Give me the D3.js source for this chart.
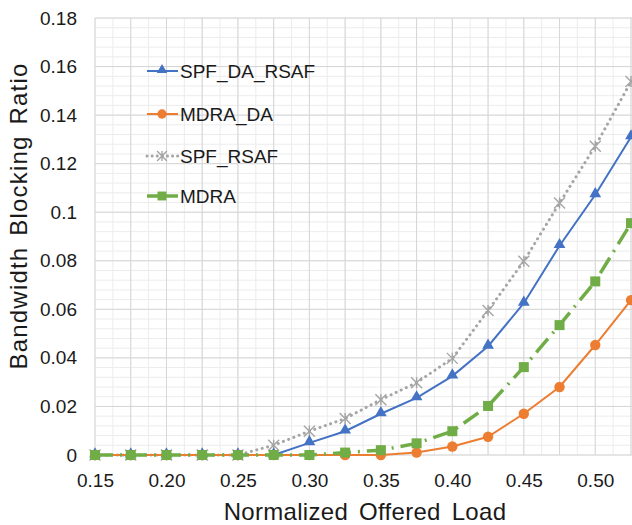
<!DOCTYPE html>
<html lang="en">
<head>
  <meta charset="UTF-8">
  <title>Bandwidth Blocking Ratio</title>
  <script src="https://cdn.jsdelivr.net/npm/d3@7"></script>
  <style>
    body { margin: 0; background: #fff; }
    text { font-family: "Liberation Sans", Arial, sans-serif; }
  </style>
</head>
<body>
<svg id="chart" width="632" height="525"></svg>
<script>
  // data
  var loads = [0.15, 0.175, 0.20, 0.225, 0.25, 0.275, 0.30, 0.325, 0.35, 0.375, 0.40, 0.425, 0.45, 0.475, 0.50, 0.525];
  var spfDaRsaf = [0, 0, 0, 0, 0, 0, 0.005, 0.0098, 0.017, 0.0235, 0.0325, 0.0448, 0.0625, 0.0862, 0.1072, 0.131];
  var mdraDa    = [0, 0, 0, 0, 0, 0, 0, 0, 0, 0.001, 0.0035, 0.0075, 0.017, 0.028, 0.0453, 0.0638];
  var spfRsaf   = [0, 0, 0, 0, 0, 0.004, 0.0098, 0.015, 0.0228, 0.0298, 0.0398, 0.0595, 0.0798, 0.1038, 0.1272, 0.1538];
  var mdra      = [0, 0, 0, 0, 0, 0, 0, 0.001, 0.002, 0.0048, 0.0098, 0.0202, 0.0362, 0.0535, 0.0715, 0.0955];
  var xTicks = [0.15, 0.20, 0.25, 0.30, 0.35, 0.40, 0.45, 0.50];
  var yTicks = [0, 0.02, 0.04, 0.06, 0.08, 0.1, 0.12, 0.14, 0.16, 0.18];

  var series = [
    {name: "SPF_DA_RSAF", values: spfDaRsaf, color: "#4472C4", marker: "triangle", dash: null, width: 2},
    {name: "MDRA_DA", values: mdraDa, color: "#ED7D31", marker: "circle", dash: null, width: 2},
    {name: "SPF_RSAF", values: spfRsaf, color: "#A5A5A5", marker: "star", dash: "0.1 5.5", width: 3},
    {name: "MDRA", values: mdra, color: "#70AD47", marker: "square", dash: "18 7 2 7", width: 3.5}
  ];

  var svg = d3.select("#chart");
  var plotLeft = 95, plotRight = 631, plotTop = 18, plotBottom = 455;

  var x = d3.scaleLinear().domain([0.15, 0.525]).range([plotLeft, plotRight]);
  var y = d3.scaleLinear().domain([0, 0.18]).range([plotBottom, plotTop]);

  // grid: minor then major
  var grid = svg.append("g");
  grid.selectAll(".vminor").data(d3.range(0, 31).map(function(i) { return 0.15 + i * 0.0125; }))
    .enter().append("line")
    .attr("x1", function(d) { return x(d); }).attr("x2", function(d) { return x(d); })
    .attr("y1", plotTop).attr("y2", plotBottom)
    .attr("stroke", "#ececec").attr("stroke-width", 1);
  grid.selectAll(".hminor").data(d3.range(0, 46).map(function(i) { return i * 0.004; }))
    .enter().append("line")
    .attr("x1", plotLeft).attr("x2", plotRight + 1)
    .attr("y1", function(d) { return y(d); }).attr("y2", function(d) { return y(d); })
    .attr("stroke", "#ececec").attr("stroke-width", 1);
  grid.selectAll(".vmajor").data(d3.range(0, 16).map(function(i) { return 0.15 + i * 0.025; }))
    .enter().append("line")
    .attr("x1", function(d) { return x(d); }).attr("x2", function(d) { return x(d); })
    .attr("y1", plotTop).attr("y2", plotBottom)
    .attr("stroke", "#d6d6d6").attr("stroke-width", 1);
  grid.selectAll(".hmajor").data(yTicks)
    .enter().append("line")
    .attr("x1", plotLeft).attr("x2", plotRight + 1)
    .attr("y1", function(d) { return y(d); }).attr("y2", function(d) { return y(d); })
    .attr("stroke", "#d6d6d6").attr("stroke-width", 1);

  // axes
  var xAxis = d3.axisBottom(x).tickValues(xTicks).tickFormat(d3.format(".2f")).tickSize(0).tickPadding(19);
  var yAxis = d3.axisLeft(y).tickValues(yTicks).tickFormat(function(d) { return d === 0 ? "0" : String(+d.toFixed(2)); })
    .tickSize(0).tickPadding(18);
  var gx = svg.append("g").attr("transform", "translate(0," + plotBottom + ")").call(xAxis);
  var gy = svg.append("g").attr("transform", "translate(" + plotLeft + ",0)").call(yAxis);
  [gx, gy].forEach(function(g) {
    g.attr("font-size", 19).attr("font-family", "'Liberation Sans', Arial, sans-serif");
    g.select(".domain").remove();
    g.selectAll("text").attr("fill", "#1a1a1a");
  });

  svg.append("text").attr("x", 365).attr("y", 520).attr("text-anchor", "middle")
    .attr("font-size", 24).attr("letter-spacing", 0.3).attr("word-spacing", 4)
    .attr("fill", "#1a1a1a").text("Normalized Offered Load");
  svg.append("text").attr("transform", "translate(27,216) rotate(-90)").attr("text-anchor", "middle")
    .attr("font-size", 24).attr("letter-spacing", 1.2).attr("word-spacing", 3)
    .attr("fill", "#1a1a1a").text("Bandwidth Blocking Ratio");

  function drawMarker(g, type, color, cx, cy, s) {
    if (type === "triangle") {
      g.append("path").attr("d", d3.symbol(d3.symbolTriangle, 60 * s)()).attr("transform", "translate(" + cx + "," + (cy - 1) + ")").attr("fill", color);
    } else if (type === "circle") {
      g.append("circle").attr("cx", cx).attr("cy", cy).attr("r", 5.2 * Math.sqrt(s)).attr("fill", color);
    } else if (type === "square") {
      var h = 5 * Math.sqrt(s);
      g.append("rect").attr("x", cx - h).attr("y", cy - h).attr("width", 2 * h).attr("height", 2 * h).attr("fill", color);
    } else if (type === "star") {
      var r = 5.5 * Math.sqrt(s);
      g.append("path").attr("d",
        "M" + (cx - r) + "," + (cy - r) + "L" + (cx + r) + "," + (cy + r) +
        "M" + (cx - r) + "," + (cy + r) + "L" + (cx + r) + "," + (cy - r) +
        "M" + cx + "," + (cy - r) + "L" + cx + "," + (cy + r))
        .attr("stroke", color).attr("stroke-width", 1.4).attr("fill", "none");
    }
  }

  var line = d3.line().x(function(d, i) { return x(loads[i]); }).y(function(d) { return y(d); });

  var plot = svg.append("g");
  // draw in an order so the flat zero part shows green on top
  [2, 0, 1, 3].forEach(function(k) {
    var s = series[k];
    var g = plot.append("g");
    g.append("path").datum(s.values).attr("d", line)
      .attr("fill", "none").attr("stroke", s.color).attr("stroke-width", s.width)
      .attr("stroke-linecap", s.dash === "0.1 5.5" ? "round" : "butt")
      .attr("stroke-dasharray", s.dash);
    s.values.forEach(function(v, i) { drawMarker(g, s.marker, s.color, x(loads[i]), y(v), 1); });
  });

  // legend
  var legendY = [71, 114, 156, 196];
  var lg = svg.append("g");
  series.forEach(function(s, i) {
    var ly = legendY[i];
    lg.append("line").attr("x1", 147).attr("x2", 178).attr("y1", ly).attr("y2", ly)
      .attr("stroke", s.color).attr("stroke-width", s.width)
      .attr("stroke-linecap", s.dash === "0.1 5.5" ? "round" : "butt")
      .attr("stroke-dasharray", s.dash === "0.1 5.5" ? "0.1 5" : null);
    drawMarker(lg, s.marker, s.color, 162, ly, 0.8);
    lg.append("text").attr("x", 180).attr("y", ly + 7).attr("font-size", 19).attr("fill", "#1a1a1a").text(s.name);
  });
</script>
</body>
</html>
